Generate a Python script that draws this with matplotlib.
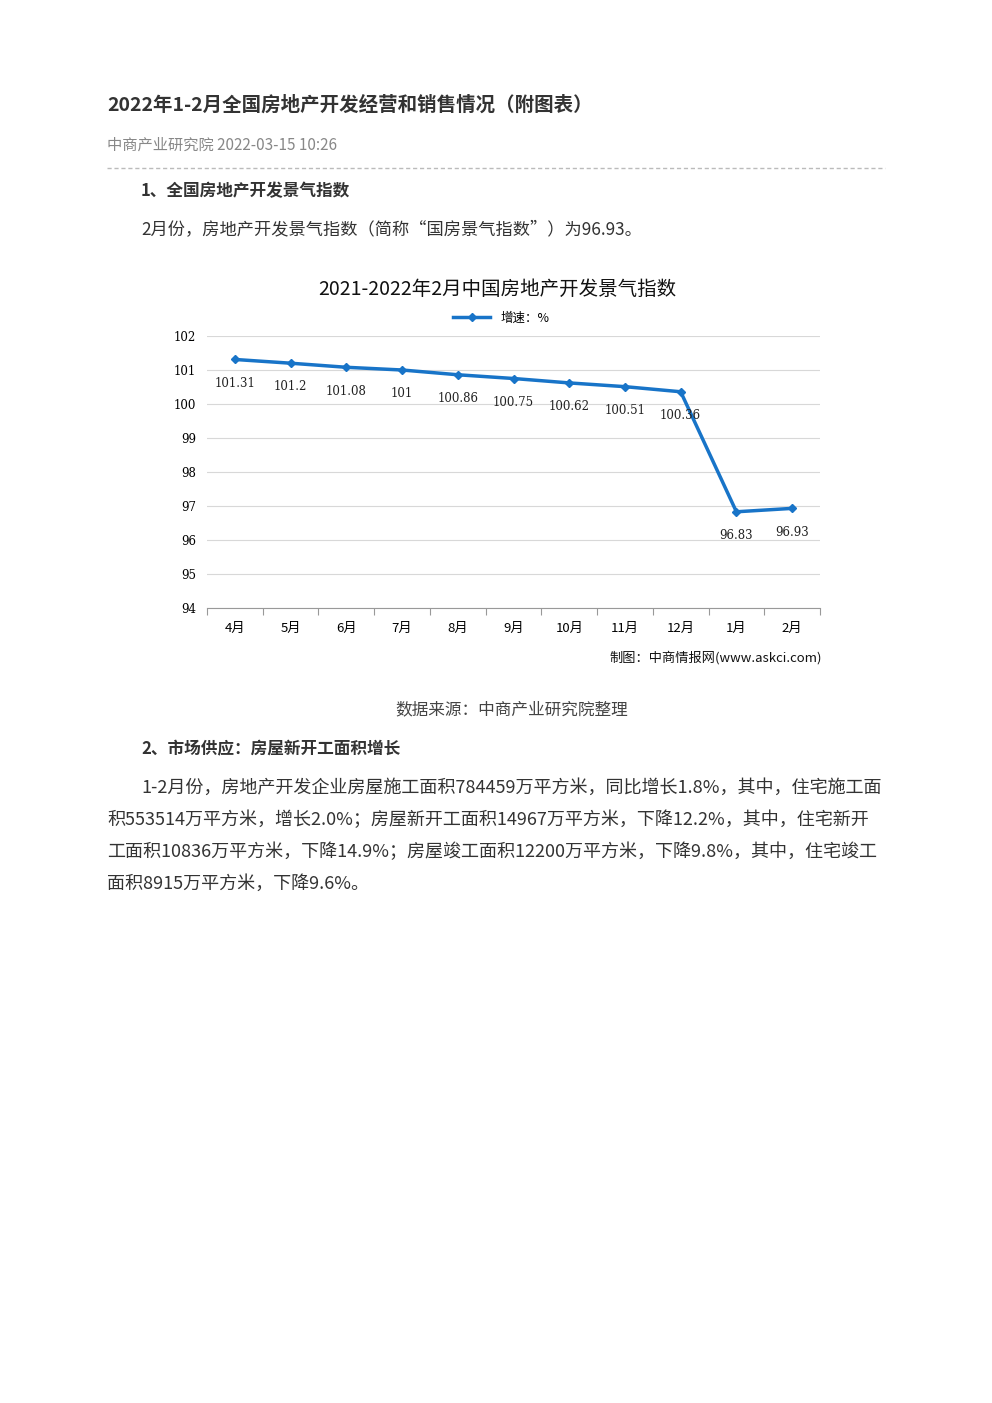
import matplotlib
matplotlib.use("Agg")
import matplotlib.pyplot as plt
from matplotlib.lines import Line2D

plt.rcParams['font.family'] = ['Noto Sans CJK SC', 'DejaVu Sans']

months = ["4月", "5月", "6月", "7月", "8月", "9月", "10月", "11月", "12月", "1月", "2月"]
values = [101.31, 101.2, 101.08, 101, 100.86, 100.75, 100.62, 100.51, 100.36, 96.83, 96.93]
labels = ["101.31", "101.2", "101.08", "101", "100.86", "100.75", "100.62", "100.51", "100.36", "96.83", "96.93"]
yticks = [94, 95, 96, 97, 98, 99, 100, 101, 102]

W, H = 992, 1403
fig = plt.figure(figsize=(W/100, H/100), dpi=100)
fig.patch.set_facecolor('white')

def T(x, y, s, **kw):
    fig.text(x/W, 1 - y/H, s, **kw)

T(107, 105, "2022年1-2月全国房地产开发经营和销售情况（附图表）", fontsize=14, weight='bold', color='#333333', va='center')
T(107, 145, "中商产业研究院 2022-03-15 10:26", fontsize=11, color='#888888', va='center')
fig.add_artist(Line2D([107/W, 885/W], [1-168/H, 1-168/H], color='#bbbbbb', lw=1, ls=(0, (3, 2))))
T(141, 191, "1、全国房地产开发景气指数", fontsize=12, weight='bold', color='#333333', va='center')
T(141, 230, "2月份，房地产开发景气指数（简称“国房景气指数”）为96.93。", fontsize=12.4, color='#333333', va='center')

T(497, 289, "2021-2022年2月中国房地产开发景气指数", fontsize=14, color='#111111', va='center', ha='center')

ax = fig.add_axes([207/W, 1-608/H, 613/W, 272/H])
x = list(range(len(months)))
ax.plot(x, values, color='#1874c8', lw=2.5, marker='D', ms=4.5, label='增速：%')
for i, (v, l) in enumerate(zip(values, labels)):
    ax.text(i, v - 0.7, l, ha='center', va='center', fontsize=8.5, color='#222222', family='DejaVu Serif')
ax.set_xlim(-0.5, 10.5)
ax.set_ylim(94, 102)
ax.set_yticks(yticks)
ax.set_yticklabels([str(t) for t in yticks], fontsize=8.5, family='DejaVu Serif')
ax.set_xticks([i + 0.5 for i in range(-1, 11)], minor=False)
ax.set_xticklabels([])
ax.set_xticks(x, minor=True)
ax.set_xticklabels(months, minor=True, fontsize=9.5)
ax.tick_params(axis='x', which='minor', length=0, pad=10)
ax.tick_params(axis='x', which='major', length=5, color='#999999')
ax.tick_params(axis='y', length=0, pad=8)
ax.grid(axis='y', color='#d8d8d8', lw=0.8)
for s in ['top', 'right', 'left']:
    ax.spines[s].set_visible(False)
ax.spines['bottom'].set_color('#999999')
ax.legend(loc='lower center', bbox_to_anchor=(0.48, 1.0), frameon=False, fontsize=9, handlelength=3)

T(822, 658, "制图：中商情报网(www.askci.com)", fontsize=9.5, color='#111111', va='center', ha='right')
T(512, 710, "数据来源：中商产业研究院整理", fontsize=12, color='#444444', va='center', ha='center')
T(141, 749, "2、市场供应：房屋新开工面积增长", fontsize=12, weight='bold', color='#333333', va='center')
para = [(141, "1-2月份，房地产开发企业房屋施工面积784459万平方米，同比增长1.8%，其中，住宅施工面"),
        (107, "积553514万平方米，增长2.0%；房屋新开工面积14967万平方米，下降12.2%，其中，住宅新开"),
        (107, "工面积10836万平方米，下降14.9%；房屋竣工面积12200万平方米，下降9.8%，其中，住宅竣工"),
        (107, "面积8915万平方米，下降9.6%。")]
for i, (x0, line) in enumerate(para):
    T(x0, 788 + 32*i, line, fontsize=13, color='#333333', va='center')

fig.savefig("out.png", dpi=100)
